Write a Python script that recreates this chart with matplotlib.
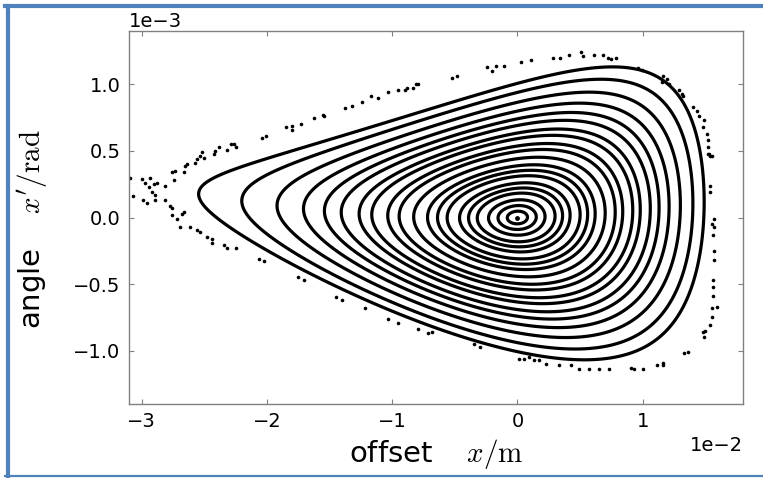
import numpy as np
import matplotlib
matplotlib.use('Agg')
import matplotlib.pyplot as plt
from matplotlib.lines import Line2D

# midplane crossing (right-hand side) of each tracked orbit, in 1e-2 m
orbit_x_right = [0.08, 0.15, 0.22, 0.30, 0.36, 0.42, 0.50, 0.56, 0.62, 0.70,
                 0.78, 0.84, 0.92, 0.98, 1.06, 1.13, 1.21, 1.30, 1.40, 1.49]

# particle sitting on the closed orbit
centre_x = [0.0]
centre_xp = [0.0]

# particles leaking out along the separatrix (x in 1e-2 m, x' in 1e-3 rad)
lost_x = [
    -3.09, -3.07, -3.00, -2.97, -2.93, -2.94, -2.90, -2.88, -2.92, -2.89,
    -2.99, -2.96, -2.89, -2.81, -2.81, -2.77, -2.76, -2.76, -2.72, -2.74,
    -2.76, -2.73, -2.66, -2.65, -2.64, -2.57, -2.56, -2.53, -2.52, -2.50,
    -2.42, -2.41, -2.38, -2.32, -2.29, -2.26, -2.25, -2.04, -2.01, -1.85,
    -1.80, -1.80,
    -2.69, -2.68, -2.66, -2.61, -2.56, -2.53, -2.48, -2.44, -2.44, -2.34,
    -2.32, -2.25, -2.06, -2.02, -1.75, -1.70, -1.45, -1.40, -1.22,
    -1.03, -0.95, -0.79, -0.71, -0.68, -0.35, -0.30, 0.01, 0.05, 0.09,
    0.13, 0.17, 0.23, 0.33, 0.43, 0.49, 0.57, 0.65, 0.73, 0.91,
    0.93, 1.00, 1.11, 1.16, 1.16, 1.33, 1.36, 1.49, 1.48,
    1.50, 1.54, 1.55, 1.55, 1.59, 1.56, 1.56, 1.56, 1.57, 1.57,
    1.56, 1.57, 1.57, 1.55, 1.54, 1.54, 1.55, 1.52, 1.54, 1.53,
    1.52, 1.52, 1.51, 1.48, 1.49, 1.45, 1.43, 1.40,
    1.32, 1.31, 1.29, 1.21, 1.15, 1.19, 1.16, 0.99, 0.96, 0.79,
    0.75, 0.72, 0.68, 0.61, 0.52, 0.51, 0.41, 0.34, 0.28, 0.11,
    0.03, -0.11, -0.17, -0.20, -0.24, -0.48, -0.52, -0.79, -0.81, -0.83,
    -0.88, -0.90, -0.95, -1.03, -1.11, -1.17, -1.24, -1.32, -1.38, -1.54,
    -1.55, -1.62, -1.73,
]
lost_xp = [
    0.30, 0.16, 0.29, 0.26, 0.30, 0.23, 0.25, 0.26, 0.19, 0.17,
    0.13, 0.11, 0.13, 0.24, 0.13, 0.09, 0.07, 0.02, -0.01, 0.28,
    0.34, 0.35, 0.34, 0.39, 0.40, 0.41, 0.44, 0.46, 0.49, 0.45,
    0.48, 0.50, 0.53, 0.51, 0.55, 0.55, 0.53, 0.60, 0.61, 0.68,
    0.69, 0.66,
    -0.07, 0.03, 0.04, -0.07, -0.09, -0.11, -0.15, -0.16, -0.19, -0.21,
    -0.23, -0.23, -0.31, -0.33, -0.45, -0.47, -0.60, -0.62, -0.68,
    -0.76, -0.79, -0.84, -0.87, -0.86, -0.95, -0.97, -1.06, -1.06, -1.05,
    -1.07, -1.07, -1.10, -1.11, -1.11, -1.14, -1.14, -1.14, -1.14, -1.13,
    -1.14, -1.14, -1.11, -1.09, -1.11, -1.02, -1.01, -0.90, -0.86,
    -0.85, -0.81, -0.75, -0.68, -0.67, -0.59, -0.52, -0.47, -0.32, -0.25,
    -0.13, -0.07, -0.01, -0.05, 0.19, 0.24, 0.46, 0.48, 0.46, 0.48,
    0.53, 0.58, 0.63, 0.68, 0.73, 0.76, 0.80, 0.83,
    0.91, 0.93, 0.96, 1.00, 1.02, 1.04, 1.06, 1.11, 1.12, 1.20,
    1.19, 1.20, 1.22, 1.22, 1.21, 1.24, 1.22, 1.20, 1.20, 1.18,
    1.17, 1.14, 1.14, 1.10, 1.13, 1.06, 1.05, 1.00, 1.00, 0.97,
    0.97, 0.96, 0.96, 0.94, 0.90, 0.91, 0.87, 0.84, 0.82, 0.76,
    0.77, 0.75, 0.70,
]

# one-turn invariant of the sextupole lattice
beta = 17.0          # m
x_saddle = 0.031     # m, distance of the unstable fixed point
g_mix = 0.7
shear_a = 0.00243
shear_c = 0.3675     # 1/m


def invariant(x, xp):
    k = 1.0 / x_saddle
    p = beta * (xp - shear_a * x - shear_c * x ** 2)
    return 0.5 * (x ** 2 + p ** 2) + k / 3.0 * (x ** 3 - 3.0 * g_mix * x * p ** 2)


xr = np.array(orbit_x_right) * 1e-2
levels = np.sort(invariant(xr, shear_a * xr + shear_c * xr ** 2))

gx = np.linspace(-0.031, 0.018, 1600)
gy = np.linspace(-1.4e-3, 1.4e-3, 1000)
GX, GY = np.meshgrid(gx, gy)
H = invariant(GX, GY)

plt.rcParams['mathtext.fontset'] = 'cm'
fig = plt.figure(figsize=(7.63, 4.78), dpi=100)
ax = fig.add_axes([0.1691, 0.1548, 0.8047, 0.7803])

ax.contour(GX, GY, H, levels=levels, colors='k', linewidths=2.3)
ax.plot(np.array(centre_x) * 1e-2, np.array(centre_xp) * 1e-3, 'o',
        color='k', ms=3.5, mew=0)
ax.plot(np.array(lost_x) * 1e-2, np.array(lost_xp) * 1e-3, 'o',
        color='k', ms=2.6, mew=0)

ax.set_xlim(-0.031, 0.018)
ax.set_ylim(-1.4e-3, 1.4e-3)
ax.set_xticks([-0.03, -0.02, -0.01, 0.0, 0.01])
ax.set_yticks([-1e-3, -0.5e-3, 0.0, 0.5e-3, 1e-3])
ax.ticklabel_format(style='sci', axis='both', scilimits=(0, 0))
ax.tick_params(direction='in', length=3.5, width=0.8, color='0.5',
               labelsize=14, pad=6, top=True, right=True)
for sp in ax.spines.values():
    sp.set_color('0.5')
    sp.set_linewidth(1.0)
ax.xaxis.get_offset_text().set_fontsize(14)
ax.yaxis.get_offset_text().set_fontsize(14)

ax.set_xlabel(r'offset $\quad x/\mathrm{m}$', fontsize=21, labelpad=4)
ax.set_ylabel(r'angle $\quad x^{\prime}/\mathrm{rad}$', fontsize=21)
ax.yaxis.set_label_coords(-0.130, 0.47)

# slide frame
blue = '#4f81bd'
fig.add_artist(Line2D([0.006, 1.0], [0.987, 0.987], color=blue, lw=3.0,
                      transform=fig.transFigure))
fig.add_artist(Line2D([0.0105, 0.0105], [0.004, 0.987], color=blue, lw=3.0,
                      transform=fig.transFigure))
fig.add_artist(Line2D([0.006, 1.0], [0.004, 0.004], color=blue, lw=1.6,
                      transform=fig.transFigure))

fig.savefig('out.png', dpi=100)
